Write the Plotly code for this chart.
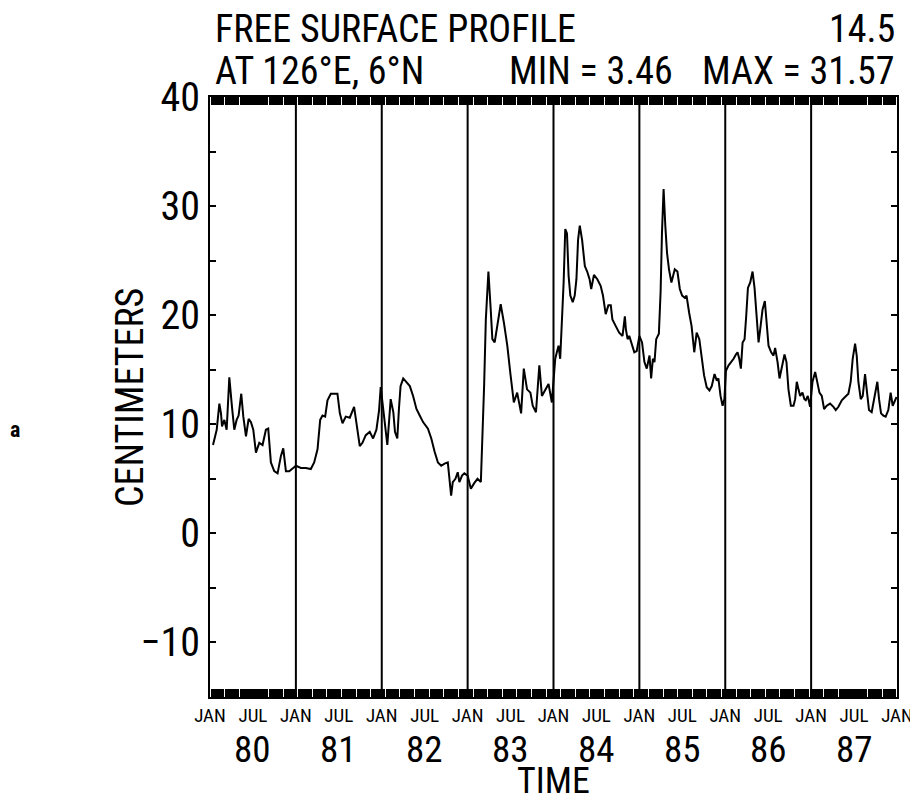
import plotly.graph_objects as go

# ---------------- data (decimal years, centimeters) ----------------
t_1980_81 = [1980.035, 1980.078, 1980.109, 1980.128, 1980.140, 1980.167, 1980.194, 1980.225,
             1980.256, 1980.283, 1980.310, 1980.333, 1980.364, 1980.388, 1980.419, 1980.450,
             1980.477, 1980.504, 1980.535, 1980.574, 1980.612, 1980.651, 1980.678, 1980.709,
             1980.748, 1980.787, 1980.826, 1980.853, 1980.884, 1980.922, 1980.969, 1981.000,
             1981.058, 1981.116, 1981.174, 1981.213, 1981.252, 1981.283, 1981.310, 1981.341,
             1981.368, 1981.407, 1981.446, 1981.484, 1981.512, 1981.543, 1981.581, 1981.628,
             1981.678, 1981.717, 1981.744, 1981.775, 1981.814, 1981.860, 1981.899, 1981.938,
             1981.969, 1981.988]
v_1980_81 = [8.1, 9.5, 11.9, 11.0, 9.8, 10.4, 9.5, 14.3,
             11.6, 9.5, 10.4, 10.8, 12.8, 10.7, 8.9, 10.5,
             10.2, 9.5, 7.4, 8.3, 8.1, 9.5, 9.6, 6.5,
             5.7, 5.5, 7.1, 7.8, 5.7, 5.7, 6.0, 6.2,
             6.0, 6.0, 5.9, 6.5, 7.7, 10.4, 10.8, 10.7,
             12.2, 12.8, 12.8, 12.8, 11.0, 10.1, 10.7, 10.6,
             11.6, 9.5, 8.0, 8.3, 9.0, 9.3, 8.7, 9.5,
             11.3, 13.4]

t_1982_83 = [1982.027, 1982.065, 1982.104, 1982.135, 1982.154, 1982.181, 1982.200, 1982.219,
             1982.250, 1982.288, 1982.327, 1982.365, 1982.404, 1982.442, 1982.481, 1982.538,
             1982.577, 1982.615, 1982.654, 1982.692, 1982.731, 1982.769, 1982.788, 1982.808,
             1982.827, 1982.858, 1982.885, 1982.904, 1982.935, 1982.962, 1983.000, 1983.038,
             1983.077, 1983.115, 1983.154, 1983.173, 1983.192, 1983.212, 1983.242, 1983.269,
             1983.288, 1983.315, 1983.346, 1983.385, 1983.423, 1983.462, 1983.500, 1983.538,
             1983.577, 1983.596, 1983.623, 1983.654, 1983.692, 1983.731, 1983.758, 1983.796,
             1983.835, 1983.865, 1983.904, 1983.942, 1983.981]
v_1982_83 = [10.8, 8.1, 12.3, 11.1, 9.3, 8.7, 11.4, 13.5,
             14.2, 13.9, 13.5, 12.6, 11.4, 10.8, 10.2, 9.6,
             8.7, 7.5, 6.5, 6.2, 6.4, 6.5, 5.0, 3.46,
             4.7, 5.0, 5.6, 4.7, 5.3, 5.5, 5.3, 4.1,
             4.6, 5.0, 4.7, 8.7, 13.5, 19.6, 24.0, 20.5,
             17.8, 17.5, 19.0, 21.0, 19.3, 17.2, 14.5, 12.0,
             12.9, 12.0, 11.0, 15.1, 13.2, 12.9, 11.7, 11.1,
             15.4, 12.6, 13.2, 13.7, 12.0]

t_1984_85 = [1984.000, 1984.020, 1984.039, 1984.059, 1984.078, 1984.098, 1984.118, 1984.137,
             1984.157, 1984.176, 1984.196, 1984.224, 1984.247, 1984.267, 1984.286, 1984.306,
             1984.333, 1984.365, 1984.392, 1984.420, 1984.439, 1984.471, 1984.510, 1984.549,
             1984.576, 1984.608, 1984.639, 1984.667, 1984.686, 1984.725, 1984.765, 1984.804,
             1984.831, 1984.843, 1984.863, 1984.882, 1984.914, 1984.941, 1984.969, 1985.000,
             1985.031, 1985.059, 1985.086, 1985.118, 1985.137, 1985.157, 1985.176, 1985.196,
             1985.227, 1985.247, 1985.263, 1985.282, 1985.302, 1985.322, 1985.345, 1985.373,
             1985.412, 1985.443, 1985.471, 1985.498, 1985.529, 1985.549, 1985.580, 1985.608,
             1985.639, 1985.667, 1985.698, 1985.725, 1985.753, 1985.784, 1985.816, 1985.843,
             1985.875, 1985.902, 1985.920, 1985.945, 1985.969, 1985.990]
v_1984_85 = [14.2, 16.0, 16.6, 17.2, 16.0, 19.0, 23.0, 27.9,
             27.5, 23.6, 21.8, 21.2, 21.8, 23.3, 26.9, 28.2,
             26.9, 24.5, 24.0, 23.3, 22.4, 23.7, 23.3, 22.7,
             21.8, 20.1, 20.9, 20.9, 19.6, 19.0, 18.4, 18.1,
             19.9, 18.7, 17.8, 18.1, 17.2, 16.6, 16.7, 18.1,
             17.5, 15.7, 15.1, 16.3, 14.2, 16.0, 15.7, 17.8,
             18.3, 22.1, 27.5, 31.57, 28.2, 25.7, 24.2, 23.0,
             24.2, 24.0, 22.4, 21.8, 21.6, 21.8, 20.2, 19.0,
             16.6, 18.4, 17.8, 16.3, 14.5, 13.4, 13.1, 13.5,
             14.6, 14.0, 14.2, 12.6, 11.7, 12.3]

t_1986_87 = [1986.008, 1986.039, 1986.070, 1986.097, 1986.124, 1986.143, 1986.163, 1986.182,
             1986.202, 1986.225, 1986.244, 1986.264, 1986.291, 1986.318, 1986.341, 1986.364,
             1986.388, 1986.407, 1986.434, 1986.461, 1986.484, 1986.504, 1986.535, 1986.562,
             1986.581, 1986.609, 1986.632, 1986.659, 1986.690, 1986.713, 1986.736, 1986.764,
             1986.795, 1986.814, 1986.833, 1986.853, 1986.872, 1986.899, 1986.922, 1986.938,
             1986.961, 1986.988, 1987.016, 1987.047, 1987.074, 1987.097, 1987.124, 1987.151,
             1987.182, 1987.221, 1987.260, 1987.287, 1987.318, 1987.357, 1987.395, 1987.434,
             1987.461, 1987.484, 1987.512, 1987.531, 1987.550, 1987.578, 1987.601, 1987.628,
             1987.647, 1987.674, 1987.705, 1987.736, 1987.771, 1987.791, 1987.814, 1987.841,
             1987.868, 1987.899, 1987.926, 1987.950, 1987.977, 1987.995]
v_1986_87 = [14.9, 15.4, 15.7, 16.0, 16.4, 16.6, 16.0, 15.1,
             17.5, 17.8, 19.9, 22.5, 23.0, 24.0, 22.5, 19.9,
             17.5, 18.7, 20.5, 21.3, 19.3, 17.2, 16.6, 16.3,
             17.0, 15.7, 14.2, 15.4, 16.4, 15.7, 13.2, 11.7,
             11.7, 12.3, 13.9, 13.2, 12.6, 12.9, 12.3, 12.2,
             12.6, 11.6, 13.9, 14.8, 13.9, 12.9, 12.6, 11.4,
             11.7, 11.9, 11.6, 11.3, 11.6, 12.2, 12.5, 12.8,
             13.9, 16.0, 17.4, 16.3, 13.9, 12.3, 12.6, 14.6,
             13.2, 11.3, 11.1, 12.3, 13.9, 12.3, 11.0, 10.8,
             10.7, 11.3, 12.9, 11.7, 12.3, 12.5]

year_bounds = [1981, 1982, 1983, 1984, 1985, 1986, 1987]
year_labels = ["80", "81", "82", "83", "84", "85", "86", "87"]
year_starts = [1980, 1981, 1982, 1983, 1984, 1985, 1986, 1987]
month_tickvals = [1980 + 0.5 * i for i in range(17)]
month_ticktext = ["JAN" if i % 2 == 0 else "JUL" for i in range(17)]
y_tickvals = [-15, -10, -5, 0, 5, 10, 15, 20, 25, 30, 35, 40]
y_ticktext = ["", "\u221210", "", "0", "", "10", "", "20", "", "30", "", "40"]

title_line1 = "FREE SURFACE PROFILE"
title_contour = "14.5"
title_line2 = "AT 126\u00b0E, 6\u00b0N"
min_text = "MIN = 3.46"
max_text = "MAX = 31.57"

FONT = "Roboto Condensed, Liberation Sans, sans-serif"
BIG = 38

t_all = t_1980_81 + t_1982_83 + t_1984_85 + t_1986_87
v_all = v_1980_81 + v_1982_83 + v_1984_85 + v_1986_87

fig = go.Figure()
fig.add_trace(go.Scatter(x=t_all, y=v_all, mode="lines",
                         line=dict(color="black", width=2), showlegend=False))

for yb in year_bounds:
    fig.add_shape(type="line", xref="x", yref="paper", x0=yb, x1=yb, y0=0, y1=1,
                  line=dict(color="black", width=2))

fig.update_xaxes(range=[1980, 1988], tickmode="array", tickvals=month_tickvals,
                 ticktext=month_ticktext, ticks="inside", ticklen=8, tickwidth=1.5,
                 tickcolor="black", mirror="allticks", showline=True, linecolor="black",
                 linewidth=2, showgrid=False, zeroline=False,
                 tickfont=dict(family=FONT, size=19, color="black"),
                 minor=dict(dtick=0.0125, ticks="inside", ticklen=8, tickwidth=1,
                            tickcolor="black", showgrid=False))
fig.update_yaxes(range=[-15, 40], tickmode="array", tickvals=y_tickvals, ticktext=y_ticktext,
                 ticks="inside", ticklen=6, tickwidth=1.5, tickcolor="black",
                 mirror="allticks", showline=True, linecolor="black", linewidth=2,
                 showgrid=False, zeroline=False,
                 tickfont=dict(family=FONT, size=40, color="black"))

ann = []
for ys, yl in zip(year_starts, year_labels):
    ann.append(dict(x=ys + 0.5, y=-0.087, xref="x", yref="paper", text=yl, showarrow=False,
                    font=dict(family=FONT, size=37, color="black"), xanchor="center",
                    yanchor="middle"))
ann += [
    dict(x=0.5, y=-0.140, xref="paper", yref="paper", text="TIME", showarrow=False,
         font=dict(family=FONT, size=36, color="black"),
         xanchor="center", yanchor="middle"),
    dict(x=-0.1165, y=0.5, xref="paper", yref="paper", text="CENTIMETERS", showarrow=False,
         textangle=-90, font=dict(family=FONT, size=BIG, color="black"),
         xanchor="center", yanchor="middle"),
    dict(x=-0.284, y=0.445, xref="paper", yref="paper", text="<b>a</b>", showarrow=False,
         font=dict(family=FONT, size=22, color="black"), xanchor="center", yanchor="middle"),
    dict(x=0.005, y=1.113, xref="paper", yref="paper", text=title_line1, showarrow=False,
         font=dict(family=FONT, size=BIG, color="black"), xanchor="left", yanchor="middle"),
    dict(x=1.0, y=1.113, xref="paper", yref="paper", text=title_contour, showarrow=False,
         font=dict(family=FONT, size=BIG, color="black"), xanchor="right", yanchor="middle"),
    dict(x=0.005, y=1.043, xref="paper", yref="paper", text=title_line2, showarrow=False,
         font=dict(family=FONT, size=BIG, color="black"), xanchor="left", yanchor="middle"),
    dict(x=0.433, y=1.043, xref="paper", yref="paper", text=min_text, showarrow=False,
         font=dict(family=FONT, size=BIG, color="black"), xanchor="left", yanchor="middle"),
    dict(x=1.0, y=1.043, xref="paper", yref="paper", text=max_text, showarrow=False,
         font=dict(family=FONT, size=BIG, color="black"), xanchor="right", yanchor="middle"),
]

# The page body adds an 8px offset, so margins are set to place the plot area
# at the same on-screen position as the reference.
fig.update_layout(width=918, height=801, margin=dict(l=202, r=29, t=89, b=112),
                  plot_bgcolor="white", paper_bgcolor="white", annotations=ann,
                  font=dict(family=FONT, color="black"))

fig.write_html("out.html")
